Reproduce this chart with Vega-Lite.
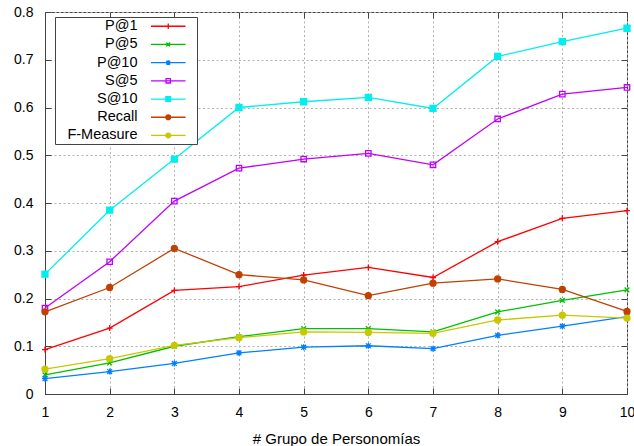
{
  "$schema": "https://vega.github.io/schema/vega-lite/v6.json",
  "width": 582,
  "height": 382,
  "autosize": {"type": "none"},
  "padding": {"left": 45, "top": 12, "right": 7, "bottom": 52},
  "background": "white",
  "config": {
    "font": "Liberation Sans",
    "view": {"stroke": "#444", "strokeWidth": 1},
    "axis": {
      "labelFont": "Liberation Sans",
      "labelFontSize": 14,
      "labelColor": "black",
      "titleFont": "Liberation Sans",
      "titleFontSize": 15,
      "titleFontWeight": "normal",
      "titleColor": "black",
      "domainColor": "#444",
      "tickColor": "#444",
      "gridColor": "#b0b0b0",
      "gridDash": [2, 2.5]
    }
  },
  "data": {
    "values": [
      {"grupo": 1, "serie": "P@1", "valor": 0.093},
      {"grupo": 2, "serie": "P@1", "valor": 0.138},
      {"grupo": 3, "serie": "P@1", "valor": 0.217},
      {"grupo": 4, "serie": "P@1", "valor": 0.225},
      {"grupo": 5, "serie": "P@1", "valor": 0.249},
      {"grupo": 6, "serie": "P@1", "valor": 0.265},
      {"grupo": 7, "serie": "P@1", "valor": 0.244},
      {"grupo": 8, "serie": "P@1", "valor": 0.319},
      {"grupo": 9, "serie": "P@1", "valor": 0.368},
      {"grupo": 10, "serie": "P@1", "valor": 0.384},
      {"grupo": 1, "serie": "P@5", "valor": 0.040},
      {"grupo": 2, "serie": "P@5", "valor": 0.065},
      {"grupo": 3, "serie": "P@5", "valor": 0.100},
      {"grupo": 4, "serie": "P@5", "valor": 0.120},
      {"grupo": 5, "serie": "P@5", "valor": 0.137},
      {"grupo": 6, "serie": "P@5", "valor": 0.137},
      {"grupo": 7, "serie": "P@5", "valor": 0.130},
      {"grupo": 8, "serie": "P@5", "valor": 0.172},
      {"grupo": 9, "serie": "P@5", "valor": 0.196},
      {"grupo": 10, "serie": "P@5", "valor": 0.218},
      {"grupo": 1, "serie": "P@10", "valor": 0.032},
      {"grupo": 2, "serie": "P@10", "valor": 0.047},
      {"grupo": 3, "serie": "P@10", "valor": 0.064},
      {"grupo": 4, "serie": "P@10", "valor": 0.086},
      {"grupo": 5, "serie": "P@10", "valor": 0.098},
      {"grupo": 6, "serie": "P@10", "valor": 0.101},
      {"grupo": 7, "serie": "P@10", "valor": 0.095},
      {"grupo": 8, "serie": "P@10", "valor": 0.123},
      {"grupo": 9, "serie": "P@10", "valor": 0.142},
      {"grupo": 10, "serie": "P@10", "valor": 0.162},
      {"grupo": 1, "serie": "S@5", "valor": 0.180},
      {"grupo": 2, "serie": "S@5", "valor": 0.277},
      {"grupo": 3, "serie": "S@5", "valor": 0.404},
      {"grupo": 4, "serie": "S@5", "valor": 0.473},
      {"grupo": 5, "serie": "S@5", "valor": 0.492},
      {"grupo": 6, "serie": "S@5", "valor": 0.504},
      {"grupo": 7, "serie": "S@5", "valor": 0.480},
      {"grupo": 8, "serie": "S@5", "valor": 0.576},
      {"grupo": 9, "serie": "S@5", "valor": 0.628},
      {"grupo": 10, "serie": "S@5", "valor": 0.642},
      {"grupo": 1, "serie": "S@10", "valor": 0.251},
      {"grupo": 2, "serie": "S@10", "valor": 0.385},
      {"grupo": 3, "serie": "S@10", "valor": 0.492},
      {"grupo": 4, "serie": "S@10", "valor": 0.600},
      {"grupo": 5, "serie": "S@10", "valor": 0.612},
      {"grupo": 6, "serie": "S@10", "valor": 0.621},
      {"grupo": 7, "serie": "S@10", "valor": 0.598},
      {"grupo": 8, "serie": "S@10", "valor": 0.707},
      {"grupo": 9, "serie": "S@10", "valor": 0.738},
      {"grupo": 10, "serie": "S@10", "valor": 0.766},
      {"grupo": 1, "serie": "Recall", "valor": 0.172},
      {"grupo": 2, "serie": "Recall", "valor": 0.223},
      {"grupo": 3, "serie": "Recall", "valor": 0.305},
      {"grupo": 4, "serie": "Recall", "valor": 0.250},
      {"grupo": 5, "serie": "Recall", "valor": 0.239},
      {"grupo": 6, "serie": "Recall", "valor": 0.206},
      {"grupo": 7, "serie": "Recall", "valor": 0.232},
      {"grupo": 8, "serie": "Recall", "valor": 0.241},
      {"grupo": 9, "serie": "Recall", "valor": 0.219},
      {"grupo": 10, "serie": "Recall", "valor": 0.173},
      {"grupo": 1, "serie": "F-Measure", "valor": 0.052},
      {"grupo": 2, "serie": "F-Measure", "valor": 0.074},
      {"grupo": 3, "serie": "F-Measure", "valor": 0.102},
      {"grupo": 4, "serie": "F-Measure", "valor": 0.118},
      {"grupo": 5, "serie": "F-Measure", "valor": 0.130},
      {"grupo": 6, "serie": "F-Measure", "valor": 0.129},
      {"grupo": 7, "serie": "F-Measure", "valor": 0.127},
      {"grupo": 8, "serie": "F-Measure", "valor": 0.155},
      {"grupo": 9, "serie": "F-Measure", "valor": 0.165},
      {"grupo": 10, "serie": "F-Measure", "valor": 0.159}
    ]
  },
  "layer": [
    {
      "mark": {"type": "line", "strokeWidth": 1.3},
      "encoding": {
        "x": {
          "field": "grupo", "type": "quantitative",
          "scale": {"domain": [1, 10], "nice": false, "zero": false},
          "axis": {
            "title": "# Grupo de Personomías",
            "values": [1, 2, 3, 4, 5, 6, 7, 8, 9, 10],
            "format": "d",
            "tickSize": -6,
            "labelPadding": 17,
            "titlePadding": 12,
            "grid": true,
            "labelFlush": false
          }
        },
        "y": {
          "field": "valor", "type": "quantitative",
          "scale": {"domain": [0, 0.8], "nice": false},
          "axis": {
            "title": null,
            "values": [0, 0.1, 0.2, 0.3, 0.4, 0.5, 0.6, 0.7, 0.8],
            "format": "~g",
            "tickSize": -6,
            "labelPadding": 18,
            "grid": true,
            "labelFlush": false
          }
        },
        "color": {
          "field": "serie", "type": "nominal",
          "scale": {
            "domain": ["F-Measure", "Recall", "S@10", "S@5", "P@10", "P@5", "P@1"],
            "range": ["#c8c800", "#c04000", "#00eeee", "#c000ff", "#0080ff", "#00c000", "#ff0000"]
          },
          "legend": null
        }
      }
    },
    {
      "mark": {"type": "point", "opacity": 1, "strokeWidth": 1.3, "size": 36},
      "encoding": {
        "x": {
          "field": "grupo", "type": "quantitative",
          "axis": {"orient": "top", "labels": false, "title": null, "values": [1, 2, 3, 4, 5, 6, 7, 8, 9, 10], "tickSize": -6, "grid": false, "domain": false}
        },
        "y": {
          "field": "valor", "type": "quantitative",
          "axis": {"orient": "right", "labels": false, "title": null, "values": [0, 0.1, 0.2, 0.3, 0.4, 0.5, 0.6, 0.7, 0.8], "tickSize": -6, "grid": false, "domain": false}
        },
        "stroke": {
          "field": "serie", "type": "nominal",
          "scale": {
            "domain": ["P@1", "P@5", "P@10", "S@5", "S@10", "Recall", "F-Measure"],
            "range": ["#ff0000", "#00c000", "#0080ff", "#c000ff", "#00eeee", "#c04000", "#c8c800"]
          },
          "legend": null
        },
        "fill": {
          "field": "serie", "type": "nominal",
          "scale": {
            "domain": ["P@1", "P@5", "P@10", "S@5", "S@10", "Recall", "F-Measure"],
            "range": ["transparent", "transparent", "transparent", "transparent", "#00eeee", "#c04000", "#c8c800"]
          },
          "legend": null
        },
        "shape": {
          "field": "serie", "type": "nominal",
          "scale": {
            "domain": ["P@1", "P@5", "P@10", "S@5", "S@10", "Recall", "F-Measure"],
            "range": [
              "M-1,0H1M0,-1V1",
              "M-0.8,-0.8L0.8,0.8M-0.8,0.8L0.8,-0.8",
              "M-1,0H1M0,-1V1M-0.8,-0.8L0.8,0.8M-0.8,0.8L0.8,-0.8",
              "M-0.9,-0.9H0.9V0.9H-0.9Z",
              "M-1,-1H1V1H-1Z",
              "M-1,0A1,1,0,1,0,1,0A1,1,0,1,0,-1,0Z",
              "M-1,0A1,1,0,1,0,1,0A1,1,0,1,0,-1,0Z"
            ]
          },
          "legend": null
        }
      }
    },
    {
      "mark": {"type": "point", "opacity": 0, "strokeWidth": 1.3, "size": 36},
      "encoding": {
        "x": {"field": "grupo", "type": "quantitative", "axis": null},
        "y": {"field": "valor", "type": "quantitative", "axis": null},
        "stroke": {
          "field": "serie", "type": "nominal",
          "scale": {
            "domain": ["P@1", "P@5", "P@10", "S@5", "S@10", "Recall", "F-Measure"],
            "range": ["#ff0000", "#00c000", "#0080ff", "#c000ff", "#00eeee", "#c04000", "#c8c800"]
          },
          "legend": {"title": null, "orient": "none", "legendX": 10, "legendY": 5, "padding": 2, "strokeColor": "#444", "fillColor": "white", "labelFont": "Liberation Sans", "labelFontSize": 14.5, "labelColor": "black", "labelAlign": "right", "labelOffset": -38, "symbolOffset": 104, "symbolSize": 36, "symbolStrokeWidth": 1.3, "symbolOpacity": 1, "rowPadding": 3.2}
        },
        "fill": {
          "field": "serie", "type": "nominal",
          "scale": {
            "domain": ["P@1", "P@5", "P@10", "S@5", "S@10", "Recall", "F-Measure"],
            "range": ["transparent", "transparent", "transparent", "transparent", "#00eeee", "#c04000", "#c8c800"]
          },
          "legend": {"title": null, "orient": "none", "legendX": 10, "legendY": 5, "padding": 2, "strokeColor": "#444", "fillColor": "white", "labelFont": "Liberation Sans", "labelFontSize": 14.5, "labelColor": "black", "labelAlign": "right", "labelOffset": -38, "symbolOffset": 104, "symbolSize": 36, "symbolStrokeWidth": 1.3, "symbolOpacity": 1, "rowPadding": 3.2}
        },
        "shape": {
          "field": "serie", "type": "nominal",
          "scale": {
            "domain": ["P@1", "P@5", "P@10", "S@5", "S@10", "Recall", "F-Measure"],
            "range": [
              "M-5.76,0H5.76M0,-0.88V0.88M7.8,0",
              "M-5.76,0H5.76M-0.64,-0.64L0.64,0.64M-0.64,0.64L0.64,-0.64M7.8,0",
              "M-5.76,0H5.76M0,-0.8V0.8M-0.64,-0.64L0.64,0.64M-0.64,0.64L0.64,-0.64M7.8,0",
              "M-5.76,0H5.76M-0.72,-0.72H0.72V0.72H-0.72ZM7.8,0",
              "M-5.76,0H5.76M-0.8,-0.8H0.8V0.8H-0.8ZM7.8,0",
              "M-5.76,0H5.76M-0.8,0A0.8,0.8,0,1,0,0.8,0A0.8,0.8,0,1,0,-0.8,0ZM7.8,0",
              "M-5.76,0H5.76M-0.8,0A0.8,0.8,0,1,0,0.8,0A0.8,0.8,0,1,0,-0.8,0ZM7.8,0"
            ]
          },
          "legend": {"title": null, "orient": "none", "legendX": 10, "legendY": 5, "padding": 2, "strokeColor": "#444", "fillColor": "white", "labelFont": "Liberation Sans", "labelFontSize": 14.5, "labelColor": "black", "labelAlign": "right", "labelOffset": -38, "symbolOffset": 104, "symbolSize": 36, "symbolStrokeWidth": 1.3, "symbolOpacity": 1, "rowPadding": 3.2}
        }
      }
    }
  ],
  "resolve": {
    "scale": {"stroke": "independent", "fill": "independent", "shape": "independent"},
    "axis": {"x": "independent", "y": "independent"}
  }
}
